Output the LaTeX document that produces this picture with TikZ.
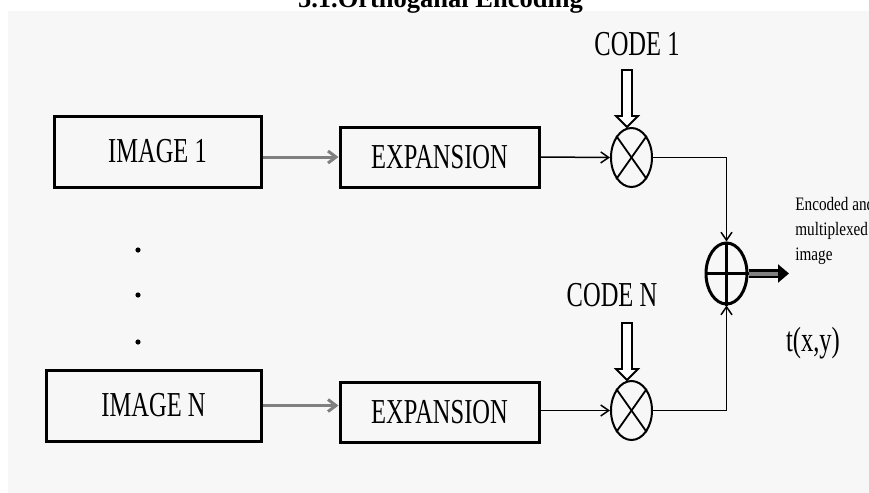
\documentclass[tikz,border=0pt]{standalone}
\usepackage{fontspec}
\setmainfont{Liberation Serif}
\newfontfamily\blockfont[FakeStretch=0.7]{Liberation Serif}
\newfontfamily\notefont[FakeStretch=0.8]{Liberation Serif}
\usetikzlibrary{shapes.geometric, arrows.meta, calc, positioning}

\tikzset{
  block/.style={draw, line width=1.5pt, minimum height=35.5pt, inner sep=0pt,
    font=\blockfont\fontsize{17.5}{20}\selectfont},
  lbl/.style={inner sep=0pt, font=\blockfont\fontsize{17.5}{20}\selectfont},
  note/.style={inner sep=0pt, font=\notefont\fontsize{9.5}{12.5}\selectfont},
  mixer/.style={draw, ellipse, line width=1pt, minimum width=20.5pt,
    minimum height=29.5pt, inner sep=0pt},
  feed/.style={draw=gray, line width=1.5pt, -{Straight Barb[length=4pt,width=6pt]}},
  wire/.style={line width=0.75pt, -{Straight Barb[length=4pt,width=5.5pt]}}
}

% hollow block arrow from #1 straight down to #2
\newcommand{\codearrow}[2]{%
  \draw[line width=0.9pt, fill=white] let \p1=(#1), \p2=(#2) in
    (\x1-2.5pt,\y1) -- (\x1-2.5pt,\y2+5.5pt) -- (\x1-5.5pt,\y2+5.5pt) -- (\x1,\y2)
    -- (\x1+5.5pt,\y2+5.5pt) -- (\x1+2.5pt,\y2+5.5pt) -- (\x1+2.5pt,\y1) -- cycle;}

\begin{document}
\begin{tikzpicture}[x=0.5pt, y=-0.5pt]

\useasboundingbox (0,0) rectangle (869,493);
\fill[black!3] (8,11) rectangle (869,493);

\node[font=\bfseries\fontsize{13.25}{15}\selectfont, anchor=base] (title) at (440.5,7) {5.1.Orthoganal Encoding};

% input images
\node[block, minimum width=103.5pt] (img1) at (157.5,151.5) {IMAGE 1};
\node[block, minimum width=107.5pt] (imgN) at (153.5,405.5) {IMAGE N};
\foreach \y in {250,295,342} % dots between the inputs
\fill (138,\y) circle (1.3pt);

% expansion stage
\node[block, minimum width=99.5pt, minimum height=30pt] (exp1) at (439.5,157) {EXPANSION};
\node[block, minimum width=99.5pt, minimum height=30pt] (expN) at (439.5,412) {EXPANSION};

% multipliers
\node[mixer] (mul1) at (631.5,157.5) {};
\node[mixer] (mulN) at (631.5,410.5) {};
\foreach \m in {mul1,mulN}
{\draw[line width=0.9pt] (\m.north west) -- (\m.south east);
 \draw[line width=0.9pt] (\m.north east) -- (\m.south west);}

% adder
\node[mixer, line width=1.5pt, minimum height=30.5pt] (sum) at (726.5,273.5) {};
\draw[line width=1.5pt] (sum.north) -- (sum.south) (sum.west) -- (sum.east);

% codes
\node[lbl, anchor=base] (code1) at (637,55) {CODE 1};
\node[lbl, anchor=base] (codeN) at (612,306) {CODE N};
\coordinate (c1) at (627,70);
\coordinate (cN) at (627,323);
\codearrow{c1}{mul1.north}
\codearrow{cN}{mulN.north}

% connections
\draw[feed] (img1.east |- exp1.west) -- (exp1.west);
\draw[feed] (imgN.east) -- (imgN.east -| expN.west);
\draw[wire] (exp1.east) -- (mul1.west);
\draw[wire] (expN.east |- mulN.west) -- (mulN.west);
\draw[wire] (mul1.east) -| (sum.north);
\draw[wire] (mulN.east) -| (sum.south);

% output
\coordinate (out) at (789,273.5);
\draw[line width=1.1pt, double=gray, double distance=2pt, -{Triangle[length=5.5pt,width=9pt]}] (sum.east) -- (out);
\node[note, anchor=north west, align=left] (outtxt) at (795,197) {Encoded and\\multiplexed\\image};
\node[lbl, anchor=base] (txy) at (813,351) {t(x,y)};

\end{tikzpicture}
\end{document}
